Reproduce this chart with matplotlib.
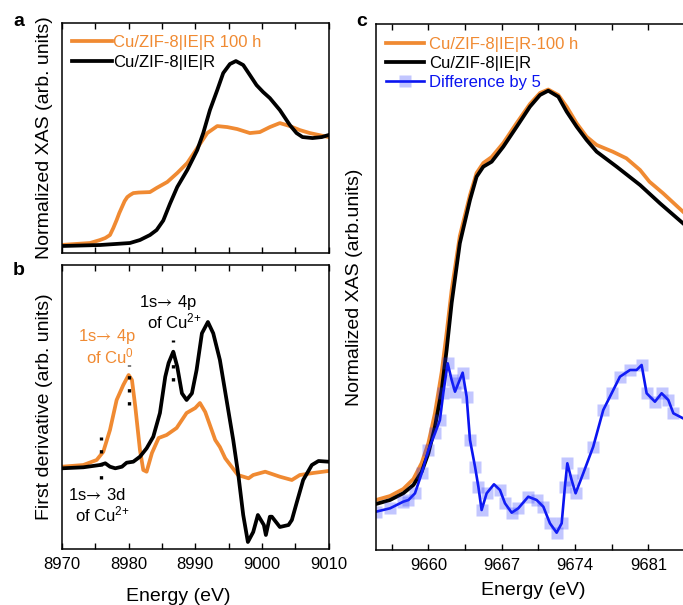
import numpy as np
import matplotlib
matplotlib.use('Agg')
import matplotlib.pyplot as plt
from matplotlib.ticker import MultipleLocator

plt.rcParams['font.family'] = ['Liberation Sans', 'DejaVu Sans']
plt.rcParams['mathtext.fontset'] = 'custom'
plt.rcParams['mathtext.rm'] = 'Liberation Sans'
plt.rcParams['mathtext.it'] = 'Liberation Sans:italic'

ORANGE = '#f08a32'
BLUE = '#0a14f0'

# ---- panel a: normalized XAS (Cu K-edge)
a_E_100h = [8970, 8974.2, 8975.7, 8976.5, 8977.2, 8977.7, 8978.2, 8978.6, 8979.0, 8979.4,
            8979.8, 8980.2, 8980.7, 8981.5, 8983.2, 8984.2, 8985.8, 8987.3, 8988.8, 8990.3,
            8991.8, 8993.3, 8994.8, 8996.3, 8998.2, 8999.7, 9001.2, 9002.7, 9004.2, 9005.7,
            9007.2, 9010]
a_100h = [0.01, 0.027, 0.054, 0.072, 0.099, 0.162, 0.234, 0.297, 0.351, 0.405,
          0.441, 0.459, 0.477, 0.482, 0.486, 0.523, 0.577, 0.658, 0.748, 0.883,
          1.018, 1.081, 1.072, 1.054, 1.018, 1.027, 1.072, 1.108, 1.081, 1.045,
          1.018, 0.982]
a_E_ref = [8970, 8975.7, 8980.2, 8981.7, 8983.2, 8984.2, 8985.2, 8986.2, 8987.3, 8988.8,
           8990.3, 8991.2, 8992.2, 8993.3, 8994.2, 8995.2, 8996.1, 8997.2, 8998.2, 8999.2,
           9000.2, 9001.2, 9002.7, 9004.2, 9005.2, 9006.1, 9007.6, 9009, 9010]
a_ref = [0.0, 0.009, 0.027, 0.054, 0.099, 0.144, 0.23, 0.38, 0.532, 0.685,
         0.865, 1.018, 1.225, 1.405, 1.559, 1.64, 1.667, 1.631, 1.541, 1.45,
         1.387, 1.333, 1.225, 1.09, 1.018, 0.982, 0.973, 0.982, 1.0]

# ---- panel b: first derivative
b_E_100h = [8970, 8973.2, 8975.2, 8976.2, 8977.2, 8978.2, 8979.2, 8980.0, 8980.5, 8981.0,
            8981.7, 8982.2, 8982.7, 8983.5, 8984.5, 8985.7, 8987.2, 8988.7, 8990.0, 8990.7,
            8991.5, 8993.0, 8993.7, 8994.5, 8996.4, 8998.0, 8998.7, 9000.5, 9002.7, 9004.5,
            9005.7, 9007.7, 9010]
b_100h = [0.003, 0.02, 0.07, 0.153, 0.37, 0.67, 0.82, 0.92, 0.87, 0.603,
          0.17, -0.03, -0.047, 0.14, 0.29, 0.32, 0.39, 0.54, 0.59, 0.64,
          0.55, 0.27, 0.2, 0.087, -0.08, -0.113, -0.08, -0.047, -0.097, -0.13,
          -0.08, -0.06, -0.04]
b_E_ref = [8970, 8973.2, 8975.7, 8976.5, 8977.2, 8978.0, 8979.0, 8979.7, 8980.7, 8981.7,
           8982.7, 8983.7, 8984.7, 8985.5, 8986.0, 8986.7, 8987.3, 8988.0, 8988.7, 8989.5,
           8990.2, 8991.0, 8991.9, 8992.7, 8993.7, 8994.7, 8995.7, 8996.5, 8997.2, 8997.9,
           8998.7, 8999.4, 9000.3, 9000.6, 9001.2, 9001.5, 9002.7, 9004.0, 9004.5, 9005.2,
           9006.2, 9007.5, 9008.5, 9010]
b_ref = [-0.013, -0.003, 0.02, 0.037, 0.003, -0.013, 0.003, 0.043, 0.053, 0.103,
         0.187, 0.303, 0.54, 0.903, 1.04, 1.153, 1.003, 0.737, 0.67, 0.737,
         0.97, 1.337, 1.45, 1.337, 1.07, 0.67, 0.27, -0.097, -0.48, -0.75,
         -0.65, -0.48, -0.58, -0.68, -0.497, -0.497, -0.6, -0.58, -0.53, -0.363,
         -0.13, 0.02, 0.06, 0.053]

# ---- panel c: Zn K-edge
c_E = [9655.0, 9656.34, 9657.6, 9658.57, 9659.36, 9660.0, 9660.63, 9661.27, 9661.74, 9662.22,
       9663.0, 9663.97, 9664.6, 9665.24, 9666.04, 9667.15, 9668.43, 9669.69, 9670.65, 9671.44,
       9672.4, 9673.2, 9674.15, 9675.1, 9676.06, 9677.97, 9680.2, 9682.1, 9684.3]
c_ref = [0.46, 0.50, 0.567, 0.65, 0.783, 0.967, 1.233, 1.6, 2.0, 2.47,
         3.067, 3.5, 3.733, 3.833, 3.883, 4.033, 4.233, 4.433, 4.55, 4.593,
         4.533, 4.383, 4.233, 4.1, 3.983, 3.833, 3.65, 3.467, 3.267]
c_E_100h = [9655.0, 9656.34, 9657.6, 9658.57, 9659.36, 9660.0, 9660.63, 9661.27, 9661.74, 9662.22,
            9663.0, 9663.97, 9664.6, 9665.24, 9666.04, 9667.15, 9668.43, 9669.69, 9670.65, 9671.44,
            9672.4, 9673.2, 9674.15, 9675.1, 9676.06, 9677.6, 9678.9, 9680.2, 9681.1, 9682.4,
            9684.3]
c_100h = [0.5, 0.54, 0.61, 0.71, 0.87, 1.07, 1.37, 1.78, 2.17, 2.6,
          3.14, 3.55, 3.77, 3.87, 3.93, 4.07, 4.27, 4.46, 4.57, 4.605,
          4.55, 4.433, 4.267, 4.133, 4.05, 3.983, 3.917, 3.8, 3.683, 3.567,
          3.383]
c_E_diff = [9655.0, 9656.34, 9657.6, 9658.1, 9658.72, 9659.36, 9660.0, 9660.63, 9661.1, 9661.42,
            9661.84, 9662.22, 9662.54, 9662.86, 9663.27, 9663.65, 9663.97, 9664.45, 9664.77, 9665.08,
            9665.56, 9666.26, 9666.83, 9667.31, 9667.95, 9668.58, 9669.53, 9670.33, 9670.97, 9671.6,
            9672.24, 9672.72, 9673.03, 9673.26, 9673.67, 9674.05, 9674.78, 9675.73, 9676.69, 9677.49,
            9678.28, 9679.24, 9679.87, 9680.35, 9680.83, 9681.62, 9682.26, 9682.9, 9683.38, 9684.3]
c_diff = [0.383, 0.417, 0.483, 0.5, 0.567, 0.767, 1.0, 1.167, 1.3, 1.567,
          1.867, 1.7, 1.583, 1.667, 1.773, 1.533, 1.1, 0.833, 0.633, 0.4,
          0.567, 0.657, 0.6, 0.467, 0.373, 0.417, 0.533, 0.5, 0.433, 0.267,
          0.173, 0.267, 0.633, 0.867, 0.7, 0.567, 0.767, 1.033, 1.4, 1.567,
          1.733, 1.8, 1.8, 1.85, 1.567, 1.483, 1.567, 1.5, 1.367, 1.317]

W, H = 683, 605
fig = plt.figure(figsize=(W / 100, H / 100), dpi=100)


def box(x0, y0, x1, y1):
    return [x0 / W, 1 - y1 / H, (x1 - x0) / W, (y1 - y0) / H]


ax_a = fig.add_axes(box(62, 23, 328.5, 253))
ax_b = fig.add_axes(box(62, 265, 328.5, 549))
ax_c = fig.add_axes(box(376, 24, 683, 550))

for ax in (ax_a, ax_b, ax_c):
    for s in ax.spines.values():
        s.set_linewidth(1.1)
    ax.tick_params(which='both', direction='in', top=True, bottom=True, left=False,
                   right=False, labelleft=False, length=4, width=1, labelsize=12, pad=6)
ax_c.spines['right'].set_visible(False)

LW = 2.7

# panel a
ax_a.plot(a_E_100h, a_100h, color=ORANGE, lw=LW, label='Cu/ZIF-8|IE|R 100 h')
ax_a.plot(a_E_ref, a_ref, color='black', lw=LW, label='Cu/ZIF-8|IE|R')
ax_a.set_xlim(8970, 9010)
ax_a.set_ylim(-0.063, 2.01)
ax_a.xaxis.set_major_locator(MultipleLocator(10))
ax_a.xaxis.set_minor_locator(MultipleLocator(5))
ax_a.tick_params(labelbottom=False)
ax_a.set_ylabel('Normalized XAS (arb. units)', fontsize=14)
ax_a.yaxis.set_label_coords(-0.034, 0.5)
ax_a.legend(loc='upper left', bbox_to_anchor=(0.0, 0.99), frameon=False, fontsize=12,
            handlelength=2.4, handletextpad=0.05, labelspacing=0.3, borderaxespad=0.2,
            labelcolor='linecolor')

# panel b
ax_b.plot(b_E_100h, b_100h, color=ORANGE, lw=LW)
ax_b.plot(b_E_ref, b_ref, color='black', lw=LW)
ax_b.set_xlim(8970, 9010)
ax_b.set_ylim(-0.82, 2.02)
ax_b.xaxis.set_major_locator(MultipleLocator(10))
ax_b.xaxis.set_minor_locator(MultipleLocator(5))
ax_b.set_ylabel('First derivative (arb. units)', fontsize=14)
ax_b.yaxis.set_label_coords(-0.034, 0.5)
ax_b.set_xlabel('Energy (eV)', fontsize=14)
ax_b.xaxis.set_label_coords(0.435, -0.137)

dots = dict(color='black', lw=2.4, linestyle=(0, (1, 2.9)), dash_capstyle='butt')
ax_b.plot([8980, 8980], [0.62, 1.02], **dots)
ax_b.plot([8986.6, 8986.6], [0.86, 1.27], **dots)
ax_b.plot([8975.9, 8975.9], [-0.12, 0.3], **dots)

arrow = dict(fontsize=12, ha='center', va='baseline', math_fontfamily='stix')
plain = dict(fontsize=12, ha='center', va='baseline')
ax_b.text(8985.9, 1.603, r'1s$\!\rightarrow\!$ 4p', **arrow)
ax_b.text(8986.8, 1.387, 'of Cu$^{2{+}}$', **plain)
ax_b.text(8976.7, 1.263, r'1s$\!\rightarrow\!$ 4p', color=ORANGE, **arrow)
ax_b.text(8977.2, 1.037, 'of Cu$^{0}$', color=ORANGE, **plain)
ax_b.text(8975.2, -0.33, r'1s$\!\rightarrow\!$ 3d', **arrow)
ax_b.text(8976.1, -0.547, 'of Cu$^{2{+}}$', **plain)

# panel c
ax_c.plot(c_E_100h, c_100h, color=ORANGE, lw=LW, label='Cu/ZIF-8|IE|R-100 h')
ax_c.plot(c_E, c_ref, color='black', lw=LW, label='Cu/ZIF-8|IE|R')
ax_c.plot(c_E_diff, c_diff, color=BLUE, lw=1.9, marker='s', markersize=8.5,
          mfc=(0.15, 0.2, 1.0, 0.28), mec='none', markevery=0.02, label='Difference by 5')
ax_c.set_xlim(9655, 9684.3)
ax_c.set_ylim(0, 5.26)
ax_c.xaxis.set_major_locator(MultipleLocator(7))
ax_c.xaxis.set_minor_locator(MultipleLocator(3.5))
ax_c.set_ylabel('Normalized XAS (arb.units)', fontsize=14)
ax_c.yaxis.set_label_coords(-0.042, 0.5)
ax_c.set_xlabel('Energy (eV)', fontsize=14)
ax_c.xaxis.set_label_coords(0.512, -0.061)
ax_c.legend(loc='upper left', bbox_to_anchor=(0.0, 0.995), frameon=False, fontsize=12,
            handlelength=2.3, handletextpad=0.3, labelspacing=0.25, borderaxespad=0.2,
            labelcolor='linecolor')

fig.text(13 / W, 1 - 22 / H, 'a', fontsize=14, fontweight='bold', va='center')
fig.text(13 / W, 1 - 270 / H, 'b', fontsize=14, fontweight='bold', va='center')
fig.text(356 / W, 1 - 22 / H, 'c', fontsize=14, fontweight='bold', va='center')

fig.savefig('out.png', dpi=100)
